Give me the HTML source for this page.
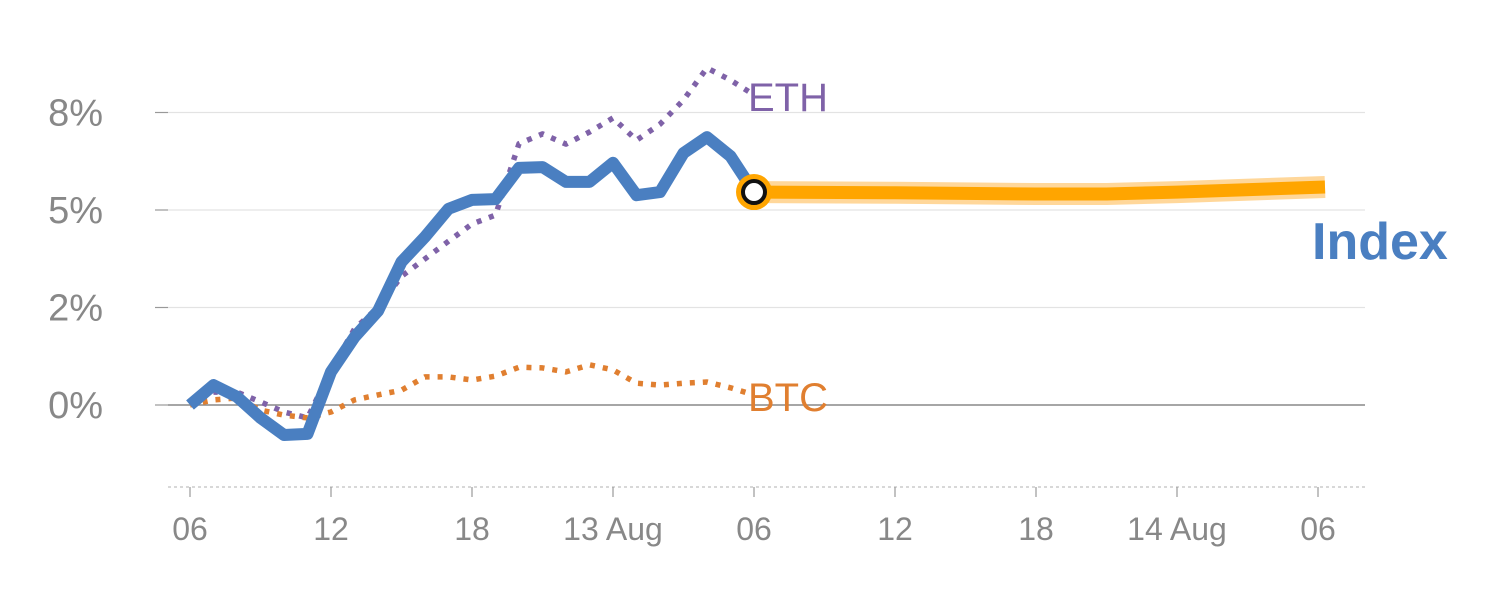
<!DOCTYPE html>
<html><head><meta charset="utf-8"><style>
body{margin:0;background:#fff;}
svg{display:block;font-family:"Liberation Sans",Arial,sans-serif;}
</style></head><body>
<svg id="chart" width="1500" height="600" viewBox="0 0 1500 600"></svg>
<script>
const hoursHist=[0,1,2,3,4,5,6,7,8,9,10,11,12,13,14,15,16,17,18,19,20,21,22,23,24];
const indexVals=[0,0.51,0.21,-0.33,-0.77,-0.74,0.85,1.74,2.41,3.67,4.31,5.03,5.26,5.28,6.08,6.10,5.72,5.72,6.21,5.38,5.46,6.46,6.87,6.38,5.46];
const ethVals=[0,0.33,0.33,0.08,-0.18,-0.33,0.9,1.95,2.5,3.3,3.75,4.2,4.64,4.87,6.7,6.95,6.69,7.0,7.36,6.79,7.2,7.82,8.64,8.33,7.95];
const btcVals=[0,0.13,0.18,-0.13,-0.26,-0.33,-0.18,0.13,0.26,0.38,0.72,0.72,0.64,0.74,0.97,0.95,0.85,1.03,0.90,0.56,0.51,0.56,0.59,0.44,0.26];
const forecastHours=[24,30,36,39,42,48.3];
const forecastVals=[5.46,5.44,5.41,5.41,5.46,5.59];
const yTicks=[0,2.5,5,7.5];
const yTickLabels=["0%","2%","5%","8%"];
const xTicks=[0,6,12,18,24,30,36,42,48];
const xTickLabels=["06","12","18","13 Aug","06","12","18","14 Aug","06"];

const NS="http://www.w3.org/2000/svg";
const svg=document.getElementById('chart');
const xs=h=>190+h*23.5;
const ys=v=>405-v*39;
function mk(tag,attrs,parent){const e=document.createElementNS(NS,tag);for(const k in attrs)e.setAttribute(k,attrs[k]);(parent||svg).appendChild(e);return e;}
function pts(hs,vs){return hs.map((h,i)=>xs(h).toFixed(1)+','+ys(vs[i]).toFixed(1)).join(' ');}

yTicks.forEach((t,i)=>{
  const y=ys(t);
  const g=mk('line',{x1:168,x2:1365,y1:y,y2:y,stroke:t===0?'#888':'#e3e3e3','stroke-width':t===0?1.5:1.2});
  
  
  const tk=mk('line',{x1:155,x2:168,y1:y,y2:y,stroke:'#999','stroke-width':1.2});
  
  
  const tx=mk('text',{x:103,y:y+13,'text-anchor':'end','font-size':38,fill:'#888'});
  tx.textContent=yTickLabels[i];
  
  
});
const ax=mk('line',{x1:168,x2:1365,y1:487,y2:487,stroke:'#ccc','stroke-width':1.5,'stroke-dasharray':'3,3'});


xTicks.forEach((h,i)=>{
  const x=xs(h);
  const tk=mk('line',{x1:x,x2:x,y1:487,y2:497,stroke:'#999','stroke-width':1.2});
  
  
  const tx=mk('text',{x:x,y:540,'text-anchor':'middle','font-size':32,fill:'#888'});
  tx.textContent=xTickLabels[i];
  
  
});

const eth=mk('polyline',{points:pts(hoursHist,ethVals),fill:'none',stroke:'#7f62a8','stroke-width':5.5,'stroke-dasharray':'5,8','stroke-linejoin':'round'});


const btc=mk('polyline',{points:pts(hoursHist,btcVals),fill:'none',stroke:'#e07f30','stroke-width':5.5,'stroke-dasharray':'5,8','stroke-linejoin':'round'});



const halo=mk('polyline',{points:pts(forecastHours,forecastVals),fill:'none',stroke:'#ffd79a','stroke-width':22,'stroke-linejoin':'round'});


const fc=mk('polyline',{points:pts(forecastHours,forecastVals),fill:'none',stroke:'#ffa500','stroke-width':13,'stroke-linejoin':'round'});



const idx=mk('polyline',{points:pts(hoursHist,indexVals),fill:'none',stroke:'#4a7fc1','stroke-width':12,'stroke-linejoin':'round'});



const last=hoursHist.length-1;
const c1=mk('circle',{cx:xs(hoursHist[last]),cy:ys(indexVals[last]),r:18,fill:'#ffa500'});


const c2=mk('circle',{cx:xs(hoursHist[last]),cy:ys(indexVals[last]),r:11,fill:'#fff',stroke:'#111','stroke-width':4});



const le=mk('text',{x:748,y:111,'font-size':40,fill:'#7f62a8'});le.textContent='ETH';


const lb=mk('text',{x:748,y:411,'font-size':40,fill:'#e07f30'});lb.textContent='BTC';


const li=mk('text',{x:1312,y:259,'font-size':52,'font-weight':'bold',fill:'#4a7fc1'});li.textContent='Index';


</script>
</body></html>
